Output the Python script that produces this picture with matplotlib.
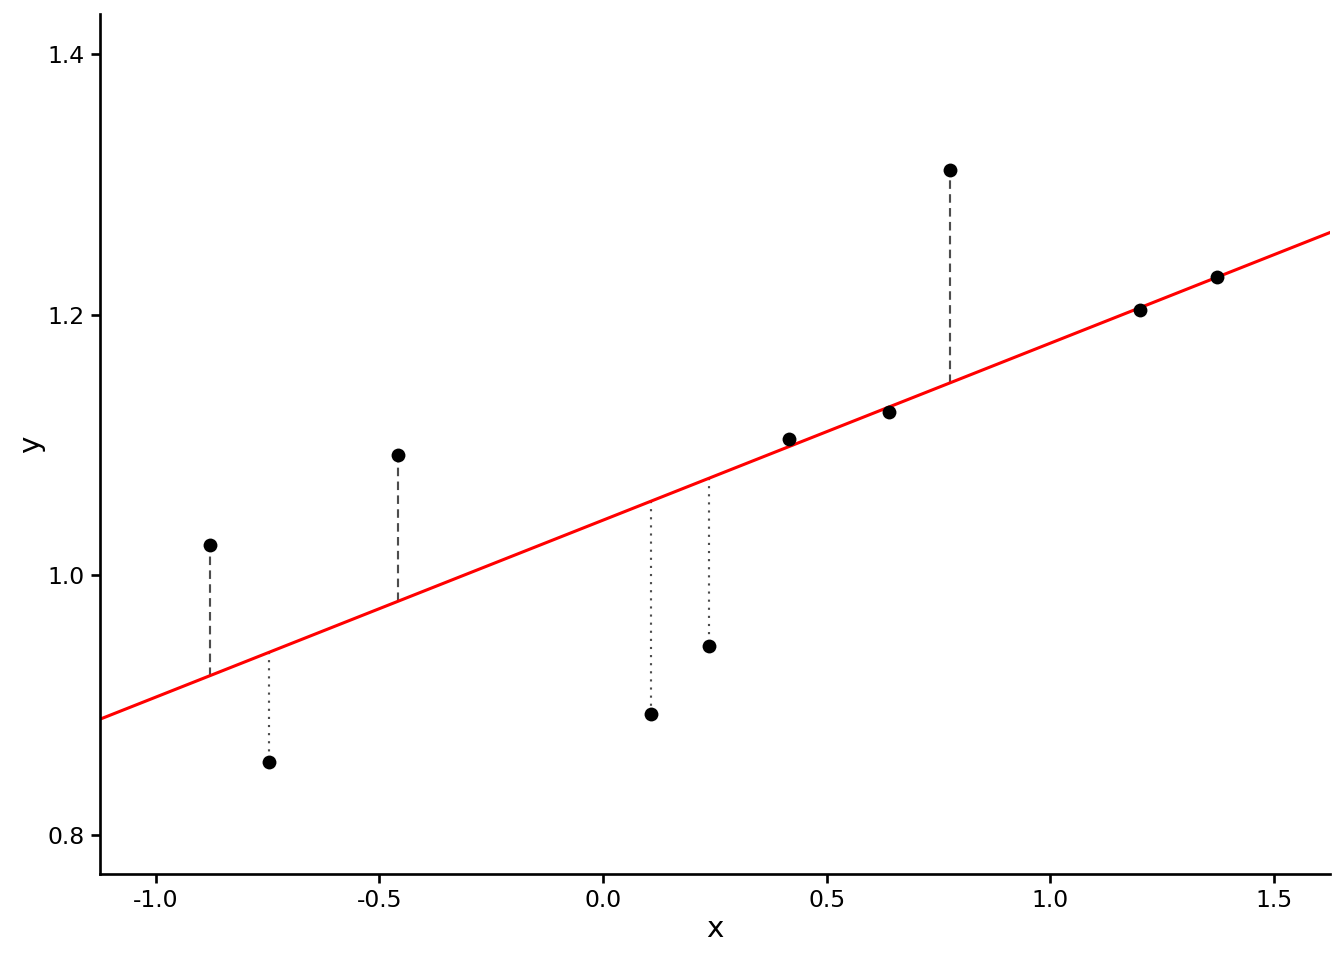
import numpy as np
import matplotlib.pyplot as plt

plt.rcParams["axes.unicode_minus"] = False

# Points
x_vals = [-0.879, -0.747, -0.459, 0.107, 0.237, 0.416, 0.640, 0.776, 1.201, 1.374]
y_vals = [1.023, 0.856, 1.092, 0.893, 0.945, 1.1045, 1.125, 1.311, 1.2036, 1.229]

x_ticks = [-1.0, -0.5, 0.0, 0.5, 1.0, 1.5]
y_ticks = [0.8, 1.0, 1.2, 1.4]


def plot_residuals():
    x = np.array(x_vals)
    y = np.array(y_vals)

    # least squares line through the points
    slope, intercept = np.polyfit(x, y, 1)
    fitted = intercept + slope * x

    fig = plt.figure(figsize=(7, 5), dpi=192)
    ax = fig.add_axes([0.0744, 0.0896, 0.9152, 0.8958])

    xlim = (-1.125, 1.626)
    ax.set_xlim(xlim)
    ax.set_ylim(0.770, 1.431)

    # residual segments: dashed above the line, dotted below
    for xi, yi, fi in zip(x, y, fitted):
        style = (0, (4, 2.5)) if yi > fi else (0, (1, 2.8))
        ax.plot([xi, xi], [fi, yi], color="#4d4d4d", lw=0.8,
                linestyle=style, zorder=1)

    xl = np.array(xlim)
    ax.plot(xl, intercept + slope * xl, color="red", lw=1.15, zorder=2)

    ax.scatter(x, y, s=27, color="black", zorder=3, linewidths=0)

    ax.set_xticks(x_ticks)
    ax.set_xticklabels([f"{t:.1f}" for t in x_ticks])
    ax.set_yticks(y_ticks)
    ax.set_yticklabels([f"{t:.1f}" for t in y_ticks])
    ax.tick_params(labelsize=8.8, length=3.5, width=1.0, colors="black", pad=2.2)

    ax.set_xlabel("x", fontsize=11, labelpad=1)
    ax.set_ylabel("y", fontsize=11, labelpad=1)

    for side in ("top", "right"):
        ax.spines[side].set_visible(False)
    for side in ("left", "bottom"):
        ax.spines[side].set_linewidth(1.0)

    fig.savefig("out.png", dpi=192)
    plt.close(fig)


if __name__ == "__main__":
    plot_residuals()
